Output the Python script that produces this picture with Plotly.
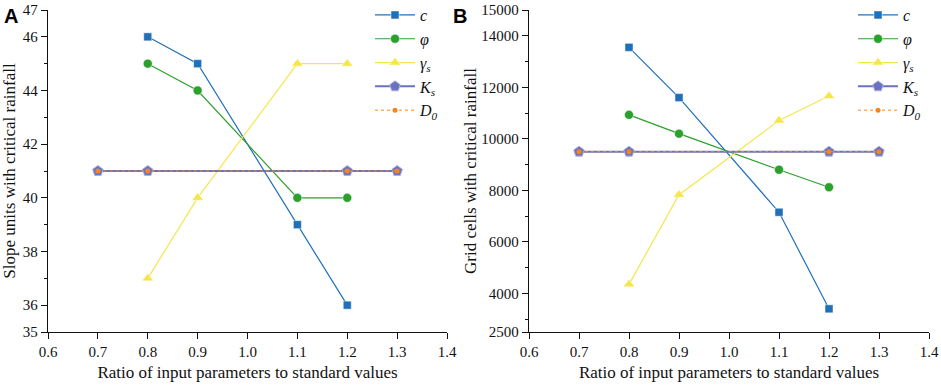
import plotly.graph_objects as go

# ---- data ----
x_c = [0.8, 0.9, 1.1, 1.2]
x_phi = [0.8, 0.9, 1.1, 1.2]
x_gs = [0.8, 0.9, 1.1, 1.2]
x_ks = [0.7, 0.8, 1.2, 1.3]
x_d0 = [0.7, 0.8, 1.2, 1.3]

a_c = [46, 45, 39, 36]
a_phi = [45, 44, 40, 40]
a_gs = [37, 40, 45, 45]
a_ks = [41, 41, 41, 41]
a_d0 = [41, 41, 41, 41]

b_c = [13550, 11600, 7150, 3400]
b_phi = [10930, 10200, 8800, 8120]
b_gs = [4350, 7830, 10710, 11660]
b_ks = [9500, 9500, 9500, 9500]
b_d0 = [9500, 9500, 9500, 9500]

names = ["<i>c</i>", "<i>φ</i>", "<i>γ<sub>s</sub></i>", "<i>K<sub>s</sub></i>", "<i>D<sub>0</sub></i>"]

x_ticks = [0.6, 0.7, 0.8, 0.9, 1.0, 1.1, 1.2, 1.3, 1.4]
x_ticklabels = ["0.6", "0.7", "0.8", "0.9", "1.0", "1.1", "1.2", "1.3", "1.4"]
a_yticks = [35, 36, 38, 40, 42, 44, 46, 47]
a_yticklabels = ["35", "36", "38", "40", "42", "44", "46", "47"]
b_yticks = [2500, 4000, 6000, 8000, 10000, 12000, 14000, 15000]
b_yticklabels = ["2500", "4000", "6000", "8000", "10000", "12000", "14000", "15000"]

colors = ["#1f70b8", "#2ca02c", "#f5e64e", "#6a72bd", "#f5861f"]
serif = "Liberation Serif, Times New Roman, serif"

W, H = 941, 388

fig = go.Figure()

def add_panel(xa, ya, leg, ys):
    xs = [x_c, x_phi, x_gs, x_ks, x_d0]
    specs = [
        dict(symbol="square", size=8),
        dict(symbol="circle", size=9),
        dict(symbol="triangle-up", size=10),
        dict(symbol="pentagon", size=11),
        dict(symbol="circle", size=5),
    ]
    for i in range(5):
        line = dict(color=colors[i], width=1.2)
        if i == 3:
            line = dict(color=colors[i], width=2)
        if i == 4:
            line = dict(color=colors[i], width=1, dash="dot")
        mk = dict(color=colors[i], symbol=specs[i]["symbol"], size=specs[i]["size"],
                  line=dict(color="rgba(255,255,255,0.6)", width=0.8))
        if i == 3:
            mk["line"] = dict(color="#aab0e0", width=1)
        if i == 4:
            mk["line"] = dict(width=0)
        fig.add_trace(go.Scatter(
            x=xs[i], y=ys[i], mode="lines+markers", name=names[i],
            line=line, marker=mk, xaxis=xa, yaxis=ya, legend=leg,
            showlegend=True,
        ))

add_panel("x", "y", "legend", [a_c, a_phi, a_gs, a_ks, a_d0])
add_panel("x2", "y2", "legend2", [b_c, b_phi, b_gs, b_ks, b_d0])

tickfont = dict(family=serif, size=15, color="#111")
titlefont = dict(family=serif, size=17, color="#111")

xcommon = dict(range=[0.6, 1.4], tickvals=x_ticks, ticktext=x_ticklabels,
               showline=True, linecolor="#111", linewidth=1.3, ticks="outside",
               ticklen=6, tickcolor="#111", tickwidth=1.3, showgrid=False,
               zeroline=False, tickfont=tickfont, automargin=False,
               title=dict(text="Ratio of input parameters to standard values",
                          font=titlefont, standoff=6))

ycommon = dict(showline=True, linecolor="#111", linewidth=1.3, ticks="outside",
               ticklen=6, tickcolor="#111", tickwidth=1.3, showgrid=False,
               zeroline=False, tickfont=tickfont, automargin=False)

ydom = [1 - 332 / H, 1 - 10 / H]

fig.update_layout(
    template="none",
    width=W, height=H,
    margin=dict(l=0, r=0, t=0, b=0, autoexpand=False),
    paper_bgcolor="white", plot_bgcolor="white",
    xaxis=dict(domain=[48 / W, 447 / W], anchor="y", **xcommon),
    xaxis2=dict(domain=[529 / W, 929 / W], anchor="y2", **xcommon),
    yaxis=dict(domain=ydom, anchor="x", range=[35, 47],
               tickvals=a_yticks, ticktext=a_yticklabels,
               minor=dict(tickvals=[37, 39, 41, 43, 45], ticks="outside", ticklen=3,
                          tickcolor="#111", tickwidth=1.2, showgrid=False),
               title=dict(text="Slope units with critical rainfall", font=titlefont, standoff=4),
               **ycommon),
    yaxis2=dict(domain=ydom, anchor="x2", range=[2500, 15000],
                tickvals=b_yticks, ticktext=b_yticklabels,
                minor=dict(tickvals=[3000, 5000, 7000, 9000, 11000, 13000], ticks="outside",
                           ticklen=3, tickcolor="#111", tickwidth=1.2, showgrid=False),
                title=dict(text="Grid cells with critical rainfall", font=titlefont, standoff=0),
                **ycommon),
    legend=dict(x=370 / W, y=1.005, xanchor="left", yanchor="top",
                font=dict(family=serif, size=16, color="#111"),
                bgcolor="rgba(0,0,0,0)", tracegroupgap=0, itemwidth=40),
    legend2=dict(x=853 / W, y=1.005, xanchor="left", yanchor="top",
                 font=dict(family=serif, size=16, color="#111"),
                 bgcolor="rgba(0,0,0,0)", tracegroupgap=0, itemwidth=40),
    annotations=[
        dict(text="<b>A</b>", x=2 / W, y=1 - 3 / H, xref="paper", yref="paper",
             xanchor="left", yanchor="top", showarrow=False,
             font=dict(family="Liberation Sans, Arial, sans-serif", size=20, color="#000")),
        dict(text="<b>B</b>", x=451 / W, y=1 - 3 / H, xref="paper", yref="paper",
             xanchor="left", yanchor="top", showarrow=False,
             font=dict(family="Liberation Sans, Arial, sans-serif", size=20, color="#000")),
    ],
)

fig.write_html("out.html", config={"displayModeBar": False},
               post_script="document.body.style.margin='0px';")
